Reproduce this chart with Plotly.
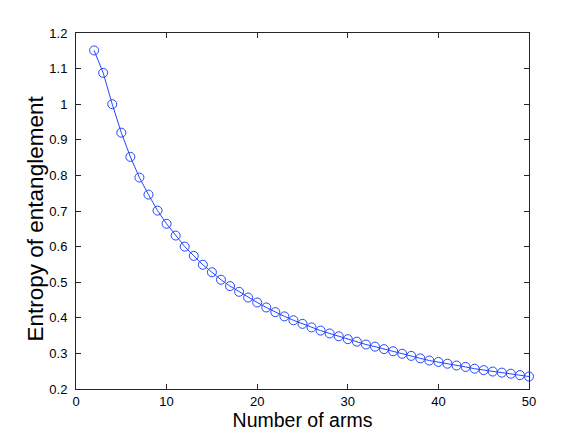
import plotly.graph_objects as go

arms = list(range(2, 51))
entropy = [1.151, 1.088, 1.000, 0.920, 0.852, 0.794, 0.746, 0.701, 0.664, 0.631,
           0.600, 0.574, 0.549, 0.528, 0.507, 0.489, 0.473, 0.457, 0.443, 0.429,
           0.416, 0.404, 0.393, 0.383, 0.373, 0.364, 0.356, 0.348, 0.340, 0.333,
           0.325, 0.319, 0.312, 0.306, 0.299, 0.293, 0.286, 0.280, 0.276, 0.271,
           0.266, 0.262, 0.257, 0.253, 0.249, 0.246, 0.243, 0.239, 0.235]

x_ticks = [0, 10, 20, 30, 40, 50]
y_ticks = [0.2, 0.3, 0.4, 0.5, 0.6, 0.7, 0.8, 0.9, 1.0, 1.1, 1.2]
y_tick_labels = ["0.2", "0.3", "0.4", "0.5", "0.6", "0.7", "0.8", "0.9", "1", "1.1", "1.2"]

fig = go.Figure(go.Scatter(
    x=arms, y=entropy, mode="lines+markers",
    line=dict(color="#2446ff", width=1),
    marker=dict(symbol="circle-open", size=9, color="#2446ff", line=dict(width=1)),
    cliponaxis=False,
))

axis_common = dict(
    showgrid=False, zeroline=False, showline=True, linecolor="#262626", linewidth=1,
    mirror="ticks", ticks="inside", ticklen=5, tickcolor="#262626",
    tickfont=dict(family="Liberation Sans, Arial, sans-serif", size=13, color="black"),
)

fam = "Liberation Sans, Arial, sans-serif"

fig.update_layout(
    width=576, height=431,
    margin=dict(l=68, r=55, t=25, b=50),
    paper_bgcolor="white", plot_bgcolor="white",
    showlegend=False,
    xaxis=dict(range=[0, 50], tickvals=x_ticks, ticktext=[str(v) for v in x_ticks],
               title=dict(text="Number of arms", standoff=0,
                          font=dict(family=fam, size=19.5, color="black")),
               **axis_common),
    yaxis=dict(range=[0.2, 1.2], tickvals=y_ticks, ticktext=y_tick_labels,
               ticklabelstandoff=5, **axis_common),
    annotations=[dict(
        text="Entropy of entanglement", textangle=-90,
        xref="paper", yref="paper", x=0, y=0.479,
        xanchor="center", yanchor="middle", xshift=-41, showarrow=False,
        font=dict(family=fam, size=22.5, color="black"),
    )],
)

fig.write_html("out.html")
